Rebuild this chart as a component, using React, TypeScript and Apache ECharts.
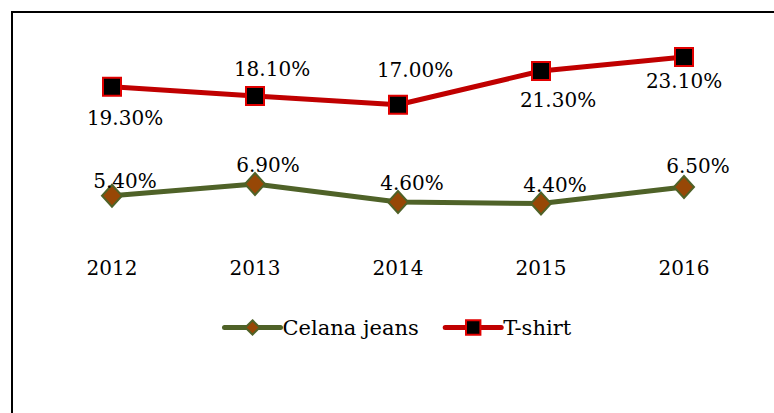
import React, { useEffect, useRef } from "react";
import * as echarts from "echarts";

const years = ["2012", "2013", "2014", "2015", "2016"];
const celanaJeans = [5.4, 6.9, 4.6, 4.4, 6.5];
const tShirt = [19.3, 18.1, 17.0, 21.3, 23.1];
// label offsets (style only): [dx, dy] from the marker centre
const celanaLabelOffset = [[13, -15], [13, -19], [14, -19], [14, -19], [14, -21]];
const tShirtLabelOffset = [[13, 31], [17, -27], [17, -35], [17, 29], [0, 24]];

const FONT = "DejaVu Serif";

export default function App() {
  const ref = useRef<HTMLDivElement>(null);
  useEffect(() => {
    if (!ref.current) return;
    const chart = echarts.init(ref.current, null, { renderer: "svg" });
    const fmt = (p: any) => p.value.toFixed(2) + "%";
    const mk = (vals: number[], offs: number[][]) =>
      vals.map((v, i) => ({
        value: v,
        label: { position: "inside", offset: offs[i] },
      }));
    const labelStyle = {
      show: true,
      formatter: fmt,
      fontSize: 20,
      color: "#000",
      fontFamily: FONT,
    };
    chart.setOption({
      animation: false,
      textStyle: { fontFamily: FONT },
      graphic: [
        {
          type: "rect",
          shape: { x: 12, y: 12, width: 900, height: 600 },
          style: { fill: "none", stroke: "#000", lineWidth: 2 },
          silent: true,
        },
      ],
      grid: { left: 40.5, right: 18.5, top: 42, bottom: 175 },
      xAxis: {
        type: "category",
        data: years,
        boundaryGap: true,
        axisLine: { show: false },
        axisTick: { show: false },
        axisLabel: { margin: 20, fontSize: 20, color: "#000", fontFamily: FONT },
      },
      yAxis: {
        type: "value",
        min: 0,
        max: 25,
        show: false,
        splitLine: { show: false },
      },
      legend: {
        left: 217,
        top: 312,
        itemWidth: 56,
        itemHeight: 18,
        itemGap: 24,
        lineStyle: { width: 5, cap: "round" },
        textStyle: { fontSize: 21, color: "#000", fontFamily: FONT, padding: [0, 0, 0, -3] },
        data: ["Celana jeans", "T-shirt"],
      },
      series: [
        {
          name: "Celana jeans",
          type: "line",
          data: mk(celanaJeans, celanaLabelOffset),
          symbol: "diamond",
          symbolSize: [20, 22],
          lineStyle: { color: "#4f6228", width: 5 },
          itemStyle: { color: "#974706", borderColor: "#4f6228", borderWidth: 2 },
          label: labelStyle,
          z: 3,
        },
        {
          name: "T-shirt",
          type: "line",
          data: mk(tShirt, tShirtLabelOffset),
          symbol: "rect",
          symbolSize: 18,
          lineStyle: { color: "#c00000", width: 5 },
          itemStyle: { color: "#000", borderColor: "#e00000", borderWidth: 2 },
          label: labelStyle,
          z: 3,
        },
      ],
    });
    return () => chart.dispose();
  }, []);
  return (
    <div
      ref={ref}
      style={{ position: "fixed", left: 0, top: 0, width: 774, height: 413, background: "#fff" }}
    />
  );
}
